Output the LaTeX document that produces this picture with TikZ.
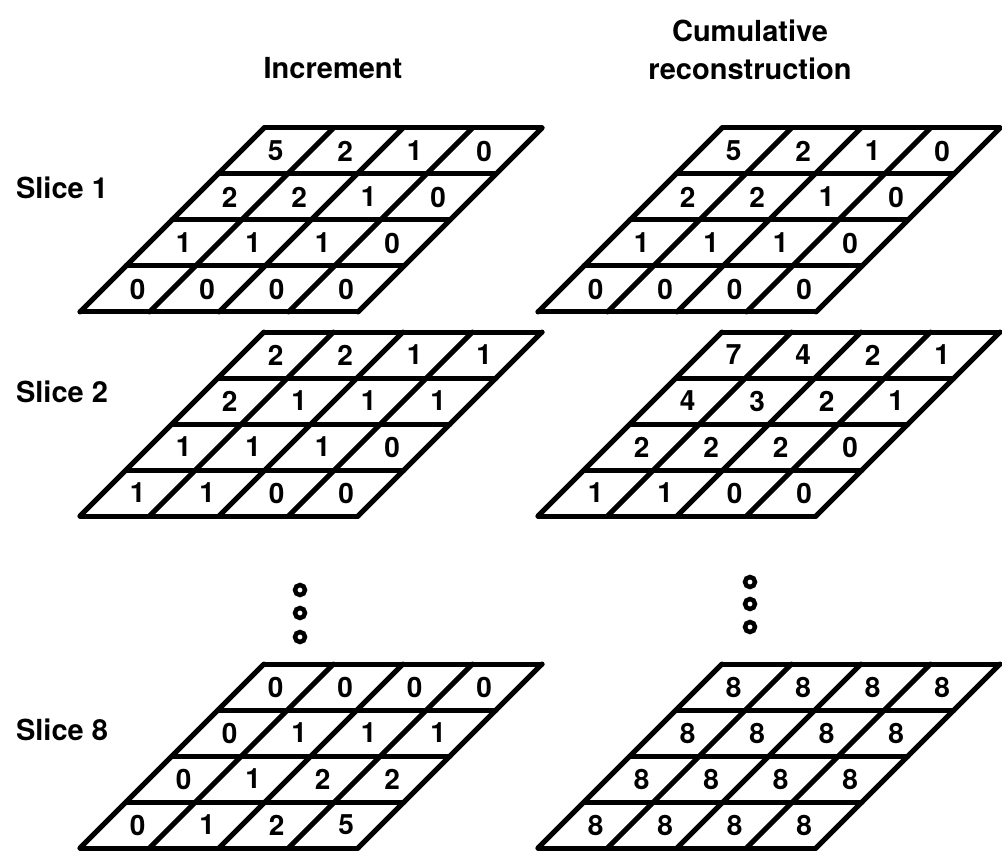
\documentclass[tikz,border=0pt]{standalone}
\usepackage{fontspec}
\setmainfont{TeX Gyre Heros}
\usetikzlibrary{calc}

\tikzset{
  gridline/.style={line width=5pt, line cap=round, line join=round},
  cellnum/.style={font=\fontsize{28}{30}\selectfont\bfseries, inner sep=0pt},
  headtext/.style={font=\fontsize{29}{38}\selectfont\bfseries, align=center},
  slicename/.style={font=\fontsize{29}{32}\selectfont\bfseries},
  dotmark/.style={circle, draw, line width=4.5pt, fill=white, minimum size=10pt, inner sep=0pt}
}

\def\cellw{69.5}
\def\cellh{46}

% one slanted 4x4 slab: name, bottom-left x, bottom-left y, values (top row first)
\newcommand{\slab}[4]{%
  \begin{scope}[shift={(#2,#3)}]
    \foreach \r in {0,...,4}
      \draw[gridline] ({\r*\cellh},{-\r*\cellh}) -- ++({4*\cellw},0);
    \foreach \c in {0,...,4}
      \draw[gridline] ({\c*\cellw},0) -- ++({4*\cellh},{-4*\cellh});
    \foreach \v [count=\i from 0] in {#4} {
      \pgfmathtruncatemacro{\rw}{3-floor(\i/4)}
      \pgfmathtruncatemacro{\cl}{mod(\i,4)}
      \node[cellnum] (#1-\i) at ({\cl*\cellw+(\rw+0.5)*\cellh+0.5*\cellw},{-(\rw+0.5)*\cellh}) {\v};
    }
  \end{scope}}

\begin{document}
\begin{tikzpicture}[x=1pt,y=-1pt]
  \useasboundingbox (0,0) rectangle (1002,853);

  % headings
  \node[headtext] (inc) at (333,68) {Increment};
  \node[headtext] (cum) at (750,50) {Cumulative\\reconstruction};

  \node[slicename] (s1) at (62,188) {Slice 1};
  \node[slicename] (s2) at (62,392) {Slice 2};
  \node[slicename] (s8) at (62,730) {Slice 8};

  % slices
  \slab{inc1}{80}{312}{5,2,1,0,2,2,1,0,1,1,1,0,0,0,0,0}
  \slab{cum1}{538}{312}{5,2,1,0,2,2,1,0,1,1,1,0,0,0,0,0}
  \slab{inc2}{80}{516}{2,2,1,1,2,1,1,1,1,1,1,0,1,1,0,0}
  \slab{cum2}{538}{516}{7,4,2,1,4,3,2,1,2,2,2,0,1,1,0,0}
  \slab{inc8}{80}{848}{0,0,0,0,0,1,1,1,0,1,2,2,0,1,2,5}
  \slab{cum8}{538}{848}{8,8,8,8,8,8,8,8,8,8,8,8,8,8,8,8}

  % skipped slices
  \node[dotmark] (dl1) at (300,590) {};
  \node[dotmark] (dl2) at (300,613) {};
  \node[dotmark] (dl3) at (300,637) {};
  \node[dotmark] (dr1) at (750,582) {};
  \node[dotmark] (dr2) at (750,604) {};
  \node[dotmark] (dr3) at (750,627) {};
\end{tikzpicture}
\end{document}
